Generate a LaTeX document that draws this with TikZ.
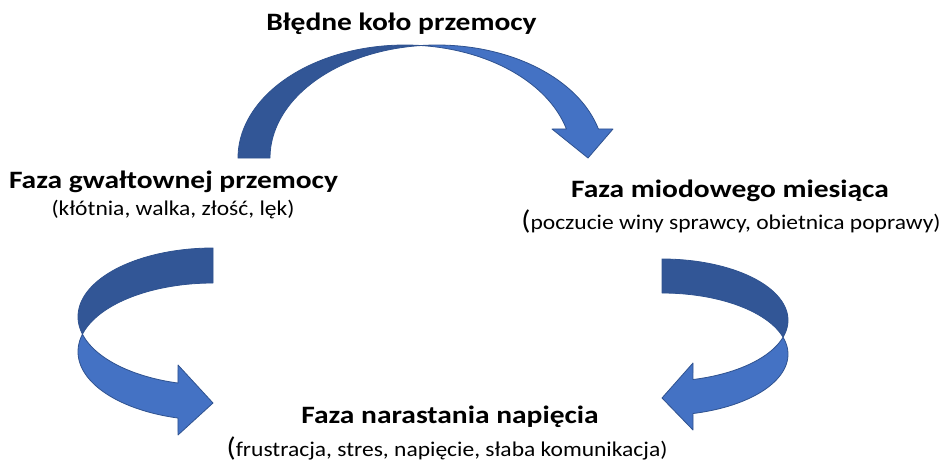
\documentclass[tikz,border=0pt]{standalone}
\usepackage{fontspec}
\setmainfont{Carlito}[FakeStretch=1.18]
\newfontfamily\subfam{Carlito}[FakeStretch=1.12]
\definecolor{arrdark}{RGB}{50,86,150}
\definecolor{arrlight}{RGB}{68,114,196}
\definecolor{arredge}{RGB}{47,82,143}
\begin{document}
\begin{tikzpicture}[x=1pt,y=-1pt,
  headtxt/.style={font=\bfseries\fontsize{25}{30}\selectfont, anchor=base, inner sep=0pt},
  subtxt/.style={font=\subfam\fontsize{21}{25}\selectfont, anchor=base, inner sep=0pt},
  backface/.style={fill=arrdark, draw=arredge, line width=0.8pt, line join=round},
  frontface/.style={fill=arrlight, draw=arredge, line width=0.8pt, line join=round}]
\useasboundingbox (0,0) rectangle (951,466);
% top arrow
\path[backface] plot[domain=180:275.5, samples=60] ({405+167*cos(\x)},{158+113*sin(\x)})
  -- plot[domain=264.5:180, samples=60] ({437+167*cos(\x)},{158+113*sin(\x)}) -- cycle;
\path[frontface] plot[domain=264.5:345.1, samples=60] ({437+167*cos(\x)},{158+113*sin(\x)})
  -- (613,129) -- (588,158) -- (552,129)
  -- plot[domain=345.1:275.5, samples=60] ({405+167*cos(\x)},{158+113*sin(\x)}) -- cycle;
% left arrow
\path[backface] plot[domain=270:165.2, samples=60] ({213+135*cos(\x)},{316.7+68.7*sin(\x)})
  -- plot[domain=194.8:270, samples=60] ({213+135*cos(\x)},{351.7+68.7*sin(\x)}) -- cycle;
\path[frontface] plot[domain=194.8:105.03, samples=60] ({213+135*cos(\x)},{351.7+68.7*sin(\x)})
  -- (178,435) -- (213,403) -- (178,365)
  -- plot[domain=105.03:165.2, samples=60] ({213+135*cos(\x)},{316.7+68.7*sin(\x)}) -- cycle;
% right arrow
\path[backface] plot[domain=270:376.13, samples=60] ({662+126*cos(\x)},{320.2+61.2*sin(\x)})
  -- plot[domain=343.87:270, samples=60] ({662+126*cos(\x)},{354.2+61.2*sin(\x)}) -- cycle;
\path[frontface] plot[domain=343.87:435.76, samples=60] ({662+126*cos(\x)},{354.2+61.2*sin(\x)})
  -- (693,430) -- (662,398) -- (693,363)
  -- plot[domain=435.76:376.13, samples=60] ({662+126*cos(\x)},{320.2+61.2*sin(\x)}) -- cycle;
% texts
\node[headtxt] (title) at (401.5,30) {Błędne koło przemocy};
\node[headtxt] (violent) at (173.5,188) {Faza gwałtownej przemocy};
\node[subtxt] (violentsub) at (173,215) {(kłótnia, walka, złość, lęk)};
\node[headtxt] (honey) at (730,197) {Faza miodowego miesiąca};
\node[subtxt] (honeysub) at (731,229) {{\fontsize{27}{27}\selectfont(}poczucie winy sprawcy, obietnica poprawy)};
\node[headtxt] (tension) at (450,423) {Faza narastania napięcia};
\node[subtxt] (tensionsub) at (447,456) {{\fontsize{27}{27}\selectfont(}frustracja, stres, napięcie, słaba komunikacja)};
\end{tikzpicture}
\end{document}
